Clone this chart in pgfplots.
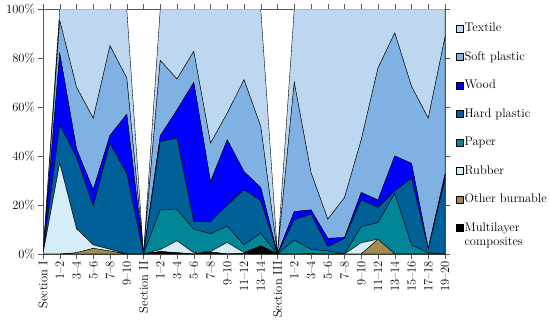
\documentclass[border=0pt]{standalone}
\usepackage{pgfplots}
\usepackage{pgfplotstable}
\pgfplotsset{compat=1.18}
\definecolor{cText}{RGB}{190,215,240}
\definecolor{cSoft}{RGB}{127,178,227}
\definecolor{cWood}{RGB}{0,0,255}
\definecolor{cHard}{RGB}{0,96,152}
\definecolor{cPaper}{RGB}{0,134,150}
\definecolor{cRub}{RGB}{212,237,246}
\definecolor{cOth}{RGB}{160,140,80}
\definecolor{cMul}{RGB}{0,0,0}
\pgfplotstableread{
x  M    O    R     P     H     W     S     T
0  0    0    0     0     0     0     0     0
1  0    0    37.1  0     15.7  29.1  13.3  4.8
2  0    0.5  9.8   0     29.2  3.3   25.3  31.9
3  0    2.3  1.4   0     15.9  6.6   29.2  44.6
4  0    1.2  0.7   0     43.2  3.3   36.6  15.0
5  0    0    0     0     33.0  24.0  14.8  28.2
6  0    0    0     0     0     0     0     0
7  1.0  0    0.8   16.2  27.9  2.3   30.8  21.0
8  0.5  0    4.9   12.8  29.1  11.5  12.6  28.6
9  0    0    0.5   9.6   3.1   56.8  12.7  17.3
10 0.8  0    0.2   7.3   4.9   16.3  15.7  54.8
11 0    0    4.7   6.7   8.6   26.6  10.9  42.5
12 0.3  0    0.3   3.1   22.5  7.4   37.5  28.9
13 3.3  0    0     5.2   13.3  5.3   24.9  48.0
14 0    0    0     0     0     0     0     0
15 0    0    0     5.7   8.2   3.4   52.7  30.0
16 0    0    0.3   1.6   14.4  1.7   15.2  66.8
17 0    0    0     1.2   1.8   3.4   7.8   85.8
18 0    0    0     0     6.4   0.3   16.3  77.0
19 0    0    4.6   6.6   10.9  3.0   21.5  53.4
20 0    6.0  0     6.8   6.2   3.0   53.9  24.1
21 0    0    0     24.8  1.0   14.2  50.2  9.8
22 0    0    0     3.7   27.2  6.1   31.4  31.6
23 0    0    0     0.5   1.5   0.3   53.1  44.6
24 0    0    0     0     30.5  2.0   56.0  11.5
}\datatable
\begin{document}
\begin{tikzpicture}
\begin{axis}[
  name=ax,
  scale only axis,
  width=402pt, height=245pt,
  xmin=0, xmax=24, ymin=0, ymax=100,
  stack plots=y,
  font=\fontsize{12.5}{14.5}\selectfont,
  axis line style={gray!70!black, line width=0.6pt},
  tick style={gray!70!black, line width=0.5pt},
  tick align=outside,
  major tick length=5pt,
  xtick={0,...,24},
  xticklabels={Section I,1--2,3--4,5--6,7--8,9--10,Section II,1--2,3--4,5--6,7--8,9--10,11--12,13--14,Section III,1--2,3--4,5--6,7--8,9--10,11--12,13--14,15--16,17--18,19--20},
  xticklabel style={rotate=90, anchor=east, inner sep=2pt},
  ytick={0,20,40,60,80,100},
  yticklabels={0\%,20\%,40\%,60\%,80\%,100\%},
  yticklabel style={inner sep=3pt},
  reverse legend,
  legend cell align=left,
  legend style={draw=none, fill=none, at={(1.02,0.955)}, anchor=north west,
    row sep=16.3pt, font=\fontsize{12.5}{14.5}\selectfont,
    nodes={align=left, inner sep=1pt}},
  legend image code/.code={\draw[#1,draw=black,line width=0.3pt] (0pt,-3.5pt) rectangle (7pt,3.5pt);},
  every axis plot/.append style={draw=black, line width=0.4pt},
]
\addplot[fill=cMul, legend image code/.code={\draw[fill=cMul,draw=black,line width=0.3pt] (0pt,4pt) rectangle (7pt,11pt);}] table[x=x,y=M]{\datatable} \closedcycle;
\addplot[fill=cOth] table[x=x,y=O]{\datatable} \closedcycle;
\addplot[fill=cRub] table[x=x,y=R]{\datatable} \closedcycle;
\addplot[fill=cPaper] table[x=x,y=P]{\datatable} \closedcycle;
\addplot[fill=cHard] table[x=x,y=H]{\datatable} \closedcycle;
\addplot[fill=cWood] table[x=x,y=W]{\datatable} \closedcycle;
\addplot[fill=cSoft] table[x=x,y=S]{\datatable} \closedcycle;
\addplot[fill=cText] table[x=x,y=T]{\datatable} \closedcycle;
\legend{Multilayer\\composites,Other burnable,Rubber,Paper,Hard plastic,Wood,Soft plastic,Textile}
\end{axis}
\path (ax.south west) ++(-43pt,-68pt) coordinate (bl);
\path (ax.north east) ++(105pt,9pt) coordinate (tr);
\pgfresetboundingbox
\path (bl) rectangle (tr);
\end{tikzpicture}
\end{document}
